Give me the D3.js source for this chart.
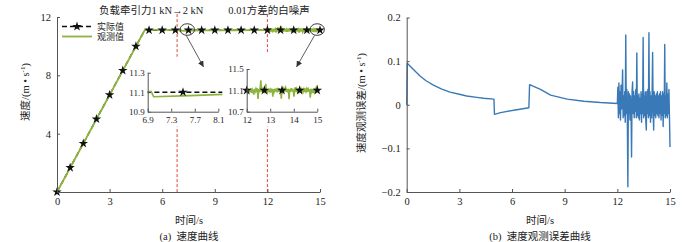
<!DOCTYPE html>
<html>
<head>
<meta charset="utf-8">
<script src="https://cdn.jsdelivr.net/npm/d3@7"></script>
<style>
body { margin: 0; background: #fff; }
svg { display: block; font-family: "Liberation Serif", "Noto Sans CJK SC", serif; }
</style>
</head>
<body>
<svg id="chart" width="700" height="242"></svg>
<script>
// ---- data ----
// actual speed (black dashed + stars)
const actualTimes = [0, 5, 15];
const actualSpeeds = [0, 11.1, 11.1];
const starTimes = [0, 0.75, 1.5, 2.25, 3, 3.75, 4.5, 5.25, 6, 6.75, 7.5, 8.25, 9, 9.75, 10.5, 11.25, 12, 12.75, 13.5, 14.25, 15];
const starSpeeds = [0, 1.67, 3.33, 5.0, 6.66, 8.33, 9.99, 11.1, 11.1, 11.1, 11.1, 11.1, 11.1, 11.1, 11.1, 11.1, 11.1, 11.1, 11.1, 11.1, 11.1];

// observed speed before the noise is switched on (green)
const obsTimes = [0, 5, 5.02, 6.0, 6.96, 7.0, 7.62, 8.2, 9.14, 10.09, 11.04, 12];
const obsSpeeds = [0, 11.087, 11.122, 11.113, 11.107, 11.054, 11.065, 11.078, 11.087, 11.092, 11.095, 11.097];
const flatSpeed = 11.1;

// observation error, smooth part (blue)
const errTimes = [0, 0.03, 0.4, 0.76, 1.1, 1.52, 2.0, 2.47, 3.0, 3.42, 4.0, 4.37, 4.97, 5.0, 5.35, 6.1, 6.96, 7.0, 7.62, 8.2, 9.14, 10.09, 11.04, 12.0];
const errValues = [0, 0.095, 0.08, 0.066, 0.055, 0.045, 0.036, 0.029, 0.024, 0.020, 0.017, 0.015, 0.013, -0.022, -0.018, -0.0125, -0.007, 0.046, 0.035, 0.022, 0.013, 0.008, 0.005, 0.003];

// observation error with white noise, sampled every 0.03 s from 12.03 s to 15 s
const noiseStart = 12.03;
const noiseStep = 0.03;
const noiseValues = [
  0.04, -0.03, 0.05, -0.02, 0.03, -0.035, 0.045, -0.01, 0.025, 0.08,
  -0.03, 0.02, -0.025, 0.03, -0.04, 0.16, -0.02, 0.035, -0.03, -0.188,
  0.03, -0.02, 0.025, -0.035, 0.02, -0.01, -0.12, 0.03, 0.052, -0.02,
  0.03, -0.03, 0.02, -0.015, 0.035, -0.03, 0.119, -0.025, 0.02, -0.03,
  0.025, -0.035, 0.015, -0.02, 0.03, -0.04, 0.025, -0.02, 0.154, -0.03,
  0.02, -0.025, 0.03, -0.035, -0.058, 0.03, -0.02, 0.035, -0.03, 0.165,
  -0.025, 0.03, -0.04, 0.02, -0.03, 0.025, 0.12, -0.02, -0.058, 0.03,
  -0.025, 0.02, -0.03, 0.025, -0.02, 0.03, -0.025, 0.02, -0.03, 0.025,
  -0.02, 0.03, -0.035, 0.02, -0.025, 0.03, -0.05, 0.025, -0.02, 0.138,
  -0.03, 0.02, -0.025, 0.05, -0.03, 0.025, -0.02, 0.035, -0.03, -0.097
];

const xTicks = [0, 3, 6, 9, 12, 15];
const speedTicks = [4, 8, 12];
const errTicks = [-0.2, -0.1, 0, 0.1, 0.2];
const inset1XTicks = [6.9, 7.3, 7.7, 8.1];
const inset1YTicks = [10.9, 11.1, 11.3];
const inset2XTicks = [12, 13, 14, 15];
const inset2YTicks = [10.7, 11.1, 11.5];
const markerTimes = [6.85, 12];

// ---- assemble series ----
const actual = actualTimes.map((t, i) => ({ t, v: actualSpeeds[i] }));
const stars = starTimes.map((t, i) => ({ t, v: starSpeeds[i] }));
const noise = noiseValues.map((e, i) => ({ t: noiseStart + i * noiseStep, e }));
const errSeries = errTimes.map((t, i) => ({ t, e: errValues[i] })).concat(noise);
// after 12 s actual speed is flat, observed = actual - error
const observed = obsTimes.map((t, i) => ({ t, v: obsSpeeds[i] }))
  .concat(noise.map(d => ({ t: d.t, v: flatSpeed - d.e })));

const GREEN = "#8db43c";
const BLUE = "#3a79b7";
const AXIS = "#555";
const RED = "#e2443c";

const svg = d3.select("#chart");
svg.append("rect").attr("width", 700).attr("height", 242).attr("fill", "#fff");

const defs = svg.append("defs");
defs.append("marker")
  .attr("id", "arrow")
  .attr("markerUnits", "userSpaceOnUse")
  .attr("markerWidth", 7).attr("markerHeight", 6)
  .attr("refX", 6).attr("refY", 3)
  .attr("orient", "auto")
  .append("path").attr("d", "M0,0L6,3L0,6Z").attr("fill", "#333");

function styleAxis(g, size) {
  g.attr("font-family", null).attr("font-size", size);
  g.select(".domain").attr("stroke", AXIS);
  g.selectAll(".tick line").attr("stroke", AXIS);
  g.selectAll(".tick text").attr("fill", "#222");
}

function drawAxes(g, x, y, xt, yt, opts) {
  const ax = g.append("g")
    .attr("transform", `translate(0,${y.range()[0]})`)
    .call(d3.axisBottom(x).tickValues(xt).tickSizeInner(-3).tickSizeOuter(0)
      .tickPadding(opts.padX).tickFormat(opts.fx || (d => d)));
  styleAxis(ax, opts.size);
  const ay = g.append("g")
    .attr("transform", `translate(${x.range()[0]},0)`)
    .call(d3.axisLeft(y).tickValues(yt).tickSizeInner(-3).tickSizeOuter(0)
      .tickPadding(opts.padY).tickFormat(opts.fy || (d => d)));
  styleAxis(ay, opts.size);
}

function yLabel(x, y, main) {
  const t = svg.append("text")
    .attr("transform", `translate(${x},${y}) rotate(-90)`)
    .attr("text-anchor", "middle")
    .attr("font-size", 10.5)
    .attr("fill", "#222");
  t.append("tspan").text(main + "/(m • s");
  t.append("tspan").attr("font-size", 7).attr("dy", -4).text("-1");
  t.append("tspan").attr("dy", 4).text(")");
}

function bottomText(cx, label, caption) {
  svg.append("text").attr("x", cx).attr("y", 224)
    .attr("text-anchor", "middle").attr("font-size", 10.5).attr("fill", "#222")
    .text(label);
  svg.append("text").attr("x", cx).attr("y", 240)
    .attr("text-anchor", "middle").attr("font-size", 10.5).attr("fill", "#222")
    .attr("xml:space", "preserve")
    .text(caption);
}

const starSym = d3.symbol().type(d3.symbolStar).size(28);

// ================= (a) speed curve =================
const x1 = d3.scaleLinear().domain([0, 15]).range([57, 320]);
const y1 = d3.scaleLinear().domain([0, 12]).range([192, 17]);
const left = svg.append("g");

const line1 = d3.line().x(d => x1(d.t)).y(d => y1(d.v));

// red dashed markers
left.selectAll(".marker").data(markerTimes).join("line")
  .attr("x1", d => x1(d)).attr("x2", d => x1(d))
  .attr("y1", y1(12.2)).attr("y2", y1(0))
  .attr("stroke", RED).attr("stroke-width", 1).attr("stroke-dasharray", "3,2");

left.append("path").datum(actual).attr("d", line1)
  .attr("fill", "none").attr("stroke", "#111").attr("stroke-width", 1.5)
  .attr("stroke-dasharray", "5,3");
left.append("path").datum(observed).attr("d", line1)
  .attr("fill", "none").attr("stroke", GREEN).attr("stroke-width", 1.8);
left.selectAll(".star").data(stars).join("path")
  .attr("transform", d => `translate(${x1(d.t)},${y1(d.v)})`)
  .attr("d", starSym).attr("fill", "#111");

drawAxes(left, x1, y1, xTicks, speedTicks, { size: 10.5, padX: 6, padY: 6 });

// legend
const lg = left.append("g").attr("font-size", 9);
lg.append("line").attr("x1", 62).attr("x2", 92).attr("y1", 26.5).attr("y2", 26.5)
  .attr("stroke", "#111").attr("stroke-width", 1.5).attr("stroke-dasharray", "5,3");
lg.append("path").attr("transform", "translate(77,26.5)").attr("d", starSym).attr("fill", "#111");
lg.append("text").attr("x", 97).attr("y", 26.5).attr("dy", "0.35em").attr("fill", "#222").text("实际值");
lg.append("line").attr("x1", 62).attr("x2", 92).attr("y1", 36.5).attr("y2", 36.5)
  .attr("stroke", GREEN).attr("stroke-width", 1.8);
lg.append("text").attr("x", 97).attr("y", 36.5).attr("dy", "0.35em").attr("fill", "#222").text("观测值");

// annotations
left.append("text").attr("x", 99).attr("y", 14).attr("font-size", 10.5).attr("fill", "#222")
  .text("负载牵引力1 kN→2 kN");
left.append("text").attr("x", 269).attr("y", 14).attr("text-anchor", "middle")
  .attr("font-size", 10.5).attr("fill", "#222").text("0.01方差的白噪声");

const rings = [{ t: 7.43, v: 11.14 }, { t: 14.84, v: 11.14 }];
left.selectAll(".ring").data(rings).join("ellipse")
  .attr("cx", d => x1(d.t)).attr("cy", d => y1(d.v))
  .attr("rx", 7.2).attr("ry", 5.8)
  .attr("fill", "none").attr("stroke", "#222").attr("stroke-width", 0.9);

// zoomed insets
function inset(box, xd, yd, xt, yt, fmt) {
  const x = d3.scaleLinear().domain(xd).range([box.x0, box.x1]);
  const y = d3.scaleLinear().domain(yd).range([box.y1, box.y0]);
  const g = left.append("g");
  g.append("rect").attr("x", box.x0 - 2).attr("y", box.y0 - 16)
    .attr("width", box.x1 - box.x0 + 6).attr("height", box.y1 - box.y0 + 31)
    .attr("fill", "#fff");
  const id = "clip" + Math.round(box.x0);
  defs.append("clipPath").attr("id", id).append("rect")
    .attr("x", box.x0).attr("y", box.y0 - 8)
    .attr("width", box.x1 - box.x0 + 4).attr("height", box.y1 - box.y0 + 8);
  const line = d3.line().x(d => x(d.t)).y(d => y(d.v));
  const p = g.append("g").attr("clip-path", `url(#${id})`);
  p.append("path").datum(actual).attr("d", line)
    .attr("fill", "none").attr("stroke", "#111").attr("stroke-width", 1.5)
    .attr("stroke-dasharray", "5,3");
  p.append("path").datum(observed).attr("d", line)
    .attr("fill", "none").attr("stroke", GREEN).attr("stroke-width", 1.6);
  g.selectAll(".s").data(stars.filter(d => d.t >= xd[0] && d.t <= xd[1])).join("path")
    .attr("transform", d => `translate(${x(d.t)},${y(d.v)})`)
    .attr("d", starSym).attr("fill", "#111");
  drawAxes(g, x, y, xt, yt, { size: 9, padX: 5, padY: 3, fx: fmt, fy: d3.format(".1f") });
}

inset({ x0: 147.7, x1: 218.3, y0: 72.7, y1: 111.7 }, [6.9, 8.1], [10.9, 11.3],
  inset1XTicks, inset1YTicks, d3.format(".1f"));
inset({ x0: 246.7, x1: 317.3, y0: 69, y1: 111.7 }, [12, 15], [10.7, 11.5],
  inset2XTicks, inset2YTicks, d => d);

// arrows from rings to insets
const arrows = [
  { t0: 7.37, v0: 10.74, t1: 8.36, v1: 8.57 },
  { t0: 14.69, v0: 10.74, t1: 13.66, v1: 8.57 }
];
left.selectAll(".arr").data(arrows).join("line")
  .attr("x1", d => x1(d.t0)).attr("y1", d => y1(d.v0))
  .attr("x2", d => x1(d.t1)).attr("y2", d => y1(d.v1))
  .attr("stroke", "#333").attr("stroke-width", 0.8)
  .attr("marker-end", "url(#arrow)");

yLabel(29, 92, "速度");
bottomText(189, "时间/s", "(a)  速度曲线");

// ================= (b) observation error =================
const x2 = d3.scaleLinear().domain([0, 15]).range([406.7, 670]);
const y2 = d3.scaleLinear().domain([-0.2, 0.2]).range([192, 17.5]);
const right = svg.append("g");

right.append("path").datum(errSeries)
  .attr("d", d3.line().x(d => x2(d.t)).y(d => y2(d.e)))
  .attr("fill", "none").attr("stroke", BLUE).attr("stroke-width", 1.4)
  .attr("stroke-linejoin", "round");

drawAxes(right, x2, y2, xTicks, errTicks, {
  size: 10.5, padX: 6, padY: 6,
  fy: d => d === 0 ? "0" : d3.format(".1f")(d)
});

yLabel(365, 103, "速度观测误差");
bottomText(540, "时间/s", "(b)  速度观测误差曲线");
</script>
</body>
</html>
